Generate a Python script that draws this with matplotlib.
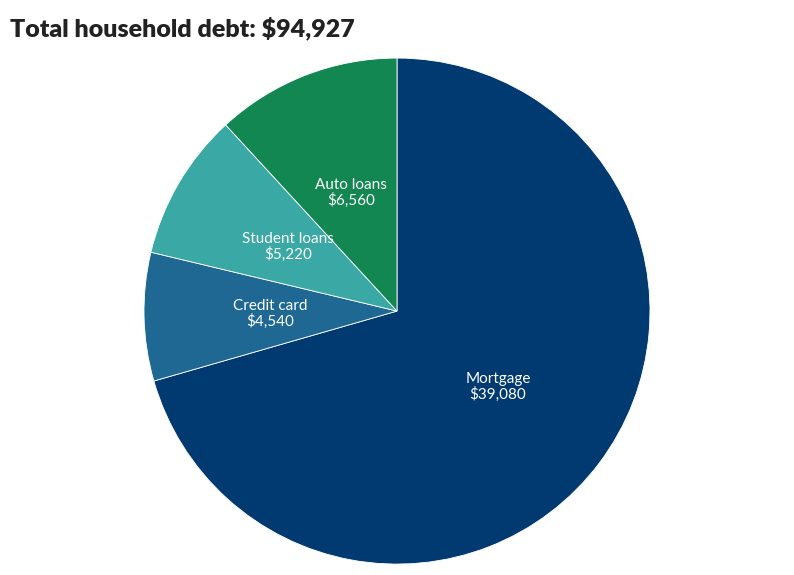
import matplotlib
matplotlib.use("Agg")
import matplotlib.pyplot as plt
import numpy as np

categories = ["Mortgage", "Credit card", "Student loans", "Auto loans"]
values = [39080, 4540, 5220, 6560]
colors = ["#003a70", "#1f6894", "#3aa8a4", "#128752"]
title = "Total household debt: $94,927"

plt.rcParams['font.family'] = ['Lato', 'DejaVu Sans']
fig = plt.figure(figsize=(7.94, 5.75), dpi=100)
ax = fig.add_axes([0.5 - 253/794, 0.459 - 253/575, 506/794, 506/575])
wedges, texts = ax.pie(values, colors=colors, startangle=90, counterclock=False,
                       wedgeprops=dict(edgecolor="white", linewidth=0.6))
for w, c, v in zip(wedges, categories, values):
    ang = np.deg2rad((w.theta1 + w.theta2) / 2)
    ax.text(0.5*np.cos(ang), 0.5*np.sin(ang), f"{c}\n${v:,}", ha="center", va="center",
            color="white", fontsize=11, linespacing=1.1)
ax.set_xlim(-1, 1)
ax.set_ylim(-1, 1)
ax.set_aspect("equal")
fig.text(10/794, 1 - 28/575, title, fontsize=18, fontweight="heavy", color="#222222", va="center")
fig.savefig("out.png", dpi=100)
